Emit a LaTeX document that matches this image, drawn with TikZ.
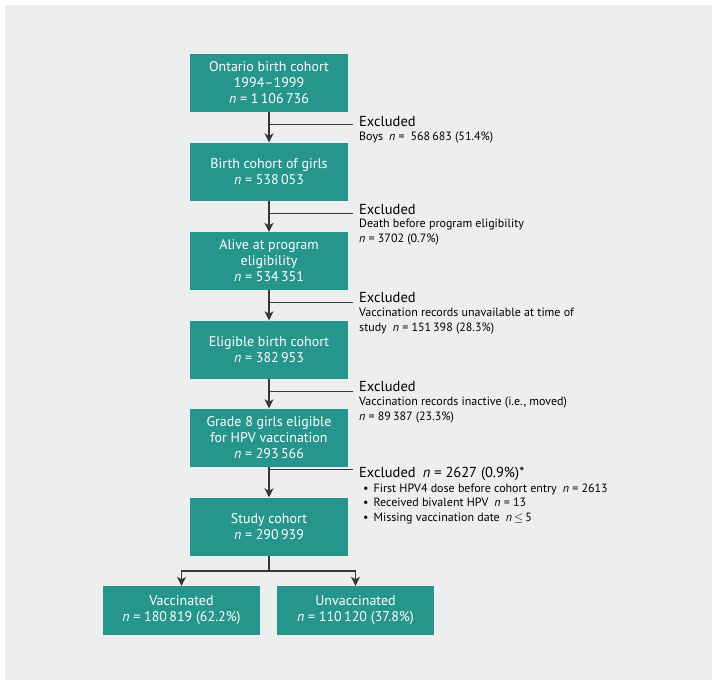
\documentclass[tikz,border=0pt]{standalone}
\usepackage{fontspec}
\setmainfont{PT Sans}
\usetikzlibrary{arrows.meta}
\definecolor{boxteal}{RGB}{38,150,140}
\definecolor{panel}{RGB}{237,238,238}
\definecolor{linegray}{RGB}{55,55,55}
\newcommand{\nn}{\textit{n}}

\begin{document}
\begin{tikzpicture}[x=1pt,y=-1pt,
  box/.style={fill=boxteal,text=white,minimum width=158pt,minimum height=58pt,
    inner sep=0pt,align=center,font=\fontsize{14}{16}\selectfont},
  leaf/.style={box,minimum width=157pt,minimum height=49pt},
  excl/.style={anchor=base west,inner sep=0pt,font=\fontsize{14.5}{16}\selectfont},
  note/.style={anchor=base west,inner sep=0pt,align=left,font=\fontsize{12}{14.3}\selectfont},
  arr/.style={draw=linegray,line width=1.1pt,-{Stealth[length=9pt,width=9pt,inset=2.5pt]}},
  side/.style={draw=linegray,line width=0.8pt,shorten >=6pt}]
\useasboundingbox (0,0) rectangle (717,686);
\fill[panel] (5,5) rectangle (712,680);
\node[box] (a) at (269,83) {Ontario birth cohort\\1994–1999\\\nn{} = 1\,106\,736};
\node[box] (b) at (269,171.5) {Birth cohort of girls\\\nn{} = 538\,053};
\node[box] (c) at (269,261) {Alive at program\\eligibility\\\nn{} = 534\,351};
\node[box] (d) at (269,349.5) {Eligible birth cohort\\\nn{} = 382\,953};
\node[box] (e) at (269,437.5) {Grade 8 girls eligible\\for HPV vaccination\\\nn{} = 293\,566};
\node[box] (f) at (269,526.5) {Study cohort\\\nn{} = 290\,939};
\node[leaf] (g) at (181.5,610.5) {Vaccinated\\\nn{} = 180\,819 (62.2\%)};
\node[leaf] (h) at (355.5,610.5) {Unvaccinated\\\nn{} = 110\,120 (37.8\%)};
\node[excl] (xa) at (359,126) {Excluded};
\node[note] (ya) at (359,140) {Boys\enspace\nn{} =\enspace 568\,683 (51.4\%)};
\node[excl] (xb) at (359,214) {Excluded};
\node[note] (yb) at (359,242) {Death before program eligibility\\\nn{} = 3702 (0.7\%)};
\node[excl] (xc) at (359,302.5) {Excluded};
\node[note] (yc) at (359,331) {Vaccination records unavailable at time of\\study\enspace\nn{} = 151\,398 (28.3\%)};
\node[excl] (xd) at (359,391) {Excluded};
\node[note] (yd) at (359,420) {Vaccination records inactive (i.e., moved)\\\nn{} = 89\,387 (23.3\%)};
\node[excl] (xe) at (359,477) {Excluded\enspace\nn{} = 2627 (0.9\%)*};
\node[note] (ye) at (359,521) {\hspace*{4pt}\textbullet\hspace{5pt}First HPV4 dose before cohort entry\enspace\nn{} = 2613\\
  \hspace*{4pt}\textbullet\hspace{5pt}Received bivalent HPV\enspace\nn{} = 13\\
  \hspace*{4pt}\textbullet\hspace{5pt}Missing vaccination date\enspace\nn{}\,$\le$\,5};
\coordinate (ca) at (269,124);
\coordinate (cb) at (269,213);
\coordinate (cc) at (269,302);
\coordinate (cd) at (269,391);
\coordinate (ce) at (269,469);
\coordinate (m) at (269,571);
\draw[arr] (a) -- (b);
\draw[arr] (b) -- (c);
\draw[arr] (c) -- (d);
\draw[arr] (d) -- (e);
\draw[arr] (e) -- (f);
\draw[side] (ca) -- (xa.west |- ca);
\draw[side] (cb) -- (xb.west |- cb);
\draw[side] (cc) -- (xc.west |- cc);
\draw[side] (cd) -- (xd.west |- cd);
\draw[side] (ce) -- (xe.west |- ce);
\draw[draw=linegray,line width=1.1pt] (f) -- (m);
\draw[arr] (m) -| (g);
\draw[arr] (m) -| (h);
\end{tikzpicture}
\end{document}
